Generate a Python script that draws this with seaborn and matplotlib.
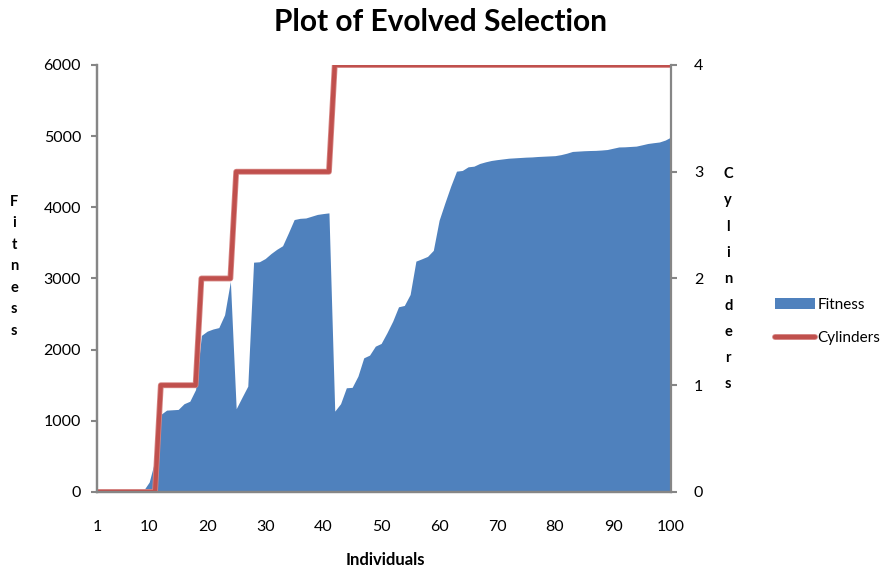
import numpy as np
import pandas as pd
import seaborn as sns
import matplotlib.pyplot as plt
import matplotlib.patheffects as pe
from matplotlib.patches import Patch
from matplotlib.lines import Line2D

individuals = list(range(1, 101))

fitness = [
    0, 0, 0, 0, 0, 0, 0, 0, 20, 140,
    450, 1090, 1150, 1155, 1160, 1240, 1275, 1440, 2200, 2260,
    2290, 2310, 2490, 2960, 1170, 1330, 1487, 3229, 3235, 3280,
    3350, 3410, 3460, 3640, 3828, 3845, 3850, 3875, 3900, 3912,
    3922, 1136, 1240, 1464, 1470, 1628, 1885, 1923, 2049, 2087,
    2237, 2401, 2602, 2621, 2775, 3244, 3276, 3310, 3395, 3818,
    4063, 4297, 4508, 4518, 4569, 4578, 4616, 4639, 4658, 4670,
    4680, 4690, 4695, 4700, 4705, 4708, 4714, 4718, 4722, 4726,
    4740, 4760, 4785, 4790, 4795, 4798, 4800, 4805, 4812, 4830,
    4848, 4850, 4855, 4860, 4878, 4897, 4908, 4918, 4945, 4988,
]

cylinders = [
    0, 0, 0, 0, 0, 0, 0, 0, 0, 0,
    0, 1, 1, 1, 1, 1, 1, 1, 2, 2,
    2, 2, 2, 2, 3, 3, 3, 3, 3, 3,
    3, 3, 3, 3, 3, 3, 3, 3, 3, 3,
    3, 4, 4, 4, 4, 4, 4, 4, 4, 4,
    4, 4, 4, 4, 4, 4, 4, 4, 4, 4,
    4, 4, 4, 4, 4, 4, 4, 4, 4, 4,
    4, 4, 4, 4, 4, 4, 4, 4, 4, 4,
    4, 4, 4, 4, 4, 4, 4, 4, 4, 4,
    4, 4, 4, 4, 4, 4, 4, 4, 4, 4,
]

x_tick_labels = [1, 10, 20, 30, 40, 50, 60, 70, 80, 90, 100]
fitness_ticks = [0, 1000, 2000, 3000, 4000, 5000, 6000]
cylinder_ticks = [0, 1, 2, 3, 4]

df = pd.DataFrame({"Individuals": individuals, "Fitness": fitness, "Cylinders": cylinders})

sns.set_style("white")
plt.rcParams['font.family'] = ['Lato', 'DejaVu Sans']
plt.rcParams['text.color'] = 'black'
plt.rcParams['xtick.color'] = 'black'
plt.rcParams['ytick.color'] = 'black'

blue = "#4F81BD"
red = "#C0504D"
grey = "#868686"
glow = [pe.Stroke(linewidth=4.2, foreground="#D68583"), pe.Normal()]

fig = plt.figure(figsize=(8.87, 5.71), dpi=100)
ax = fig.add_axes([0.1094, 0.1384, 0.6471, 0.7478])

ax.fill_between(df["Individuals"], 0, df["Fitness"], color=blue, linewidth=0)
ax.set_xlim(1, 100)
ax.set_ylim(0, 6000)
ax.set_yticks(fitness_ticks)
ax.set_xticks(x_tick_labels)
ax.set_xticks(individuals, minor=True)
ax.set_xticklabels([str(v) for v in x_tick_labels])
ax.tick_params(axis="x", which="major", length=0, pad=20, labelsize=11.5)
ax.tick_params(axis="x", which="minor", length=3.5, width=1.3, color=grey, direction="out")
ax.tick_params(axis="y", length=4.5, width=1.5, color=grey, direction="out", pad=7, labelsize=11.5, left=True)
ax.set_xlabel("")
ax.set_ylabel("")

ax2 = ax.twinx()
sns.lineplot(data=df, x="Individuals", y="Cylinders", ax=ax2, color=red,
             linewidth=3.0, legend=False, path_effects=glow)
ax2.set_ylim(0, 4)
ax2.set_xlim(1, 100)
ax2.set_yticks(cylinder_ticks)
ax2.tick_params(axis="y", length=4.5, width=1.5, color=grey, direction="out", pad=12, labelsize=11.5, right=True)
ax2.set_ylabel("")
ax2.set_xlabel("")

for a in (ax, ax2):
    a.spines["top"].set_visible(False)
    for s in ("left", "right", "bottom"):
        a.spines[s].set_color(grey)
        a.spines[s].set_linewidth(1.6)
ax.spines["right"].set_visible(False)

fig.text(0.497, 0.962, "Plot of Evolved Selection", ha="center", va="center",
         fontsize=21.5, fontweight="bold")
fig.text(0.434, 0.019, "Individuals", ha="center", va="center",
         fontsize=12, fontweight="bold")
fig.text(0.016, 0.534, "\n".join("Fitness"), ha="center", va="center",
         fontsize=10.5, fontweight="bold", linespacing=1.68)
fig.text(0.821, 0.511, "\n".join("Cylinders"), ha="center", va="center",
         fontsize=10.5, fontweight="bold", linespacing=2.12)

handles = [Patch(facecolor=blue, edgecolor="none"),
           Line2D([0], [0], color=red, linewidth=3.0, path_effects=glow)]
fig.legend(handles, ["Fitness", "Cylinders"], loc="center left",
           bbox_to_anchor=(0.858, 0.437), frameon=False, fontsize=11,
           handlelength=2.6, handletextpad=0.2, labelspacing=1.25)

fig.savefig("out.png", dpi=100)
